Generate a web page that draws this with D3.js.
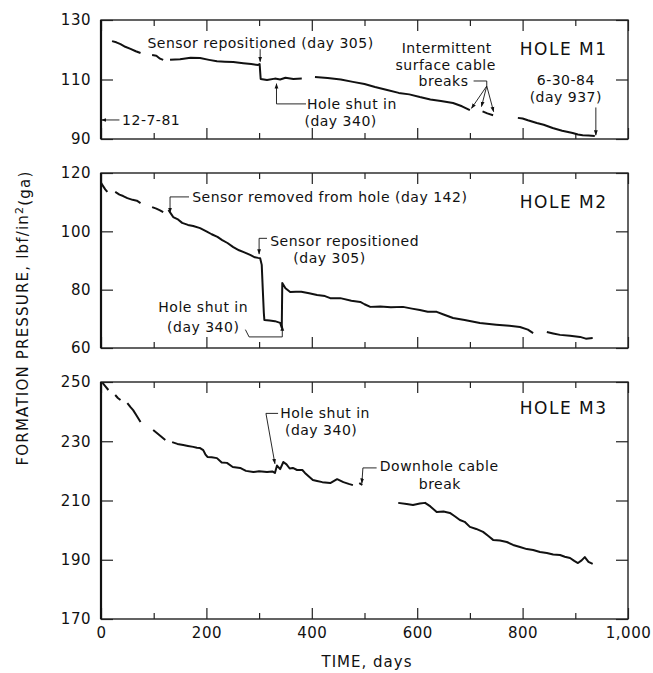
<!DOCTYPE html>
<html lang="en">
<head>
<meta charset="utf-8">
<title>Formation pressure</title>
<script src="https://cdn.jsdelivr.net/npm/d3@7"></script>
<style>
  body { margin: 0; background: #fff; }
  svg text { font-family: "DejaVu Sans", sans-serif; fill: #111; }
</style>
</head>
<body>
<script>

// ---- data (days, lbf/in2), null = gap in the record ----
var m1Days = [21,29,37,46,56,66,75,null, 97,105,112,118,null,
  131,150,170,188,205,220,235,251,270,285,298,301,303,315,330,340,350,365,381,null,
  406,430,455,478,500,520,543,565,585,605,625,645,668,685,700,null,
  724,733,744,null,
  791,800,810,827,840,857,875,895,905,914,925,937];
var m1Vals = [122.9,122.5,121.9,121,120.3,119.5,118.9,null, 118.2,118,117,116.6,null,
  116.6,116.8,117.3,117.2,116.6,116.1,116.0,115.9,115.5,115.2,114.9,115.2,110.2,109.8,110.3,110.0,110.6,110.2,110.3,null,
  110.8,110.5,110.0,109.2,108.5,107.5,106.5,105.5,105.0,104.1,103.3,102.8,102.1,101.0,99.7,null,
  99.3,98.6,98.0,null,
  97.1,96.9,96.3,95.4,94.8,93.7,92.8,92.0,91.5,91.3,91.2,91.0];

var m2Days = [0,4,8,12,null, 27,35,42,50,60,68,75,null, 97,105,112,118,null,
  128,133,137,145,154,165,175,188,200,210,221,230,240,251,262,272,283,292,298,302,305,307,309,310,
  320,330,340,343,344,350,359,370,380,395,410,425,435,454,475,492,500,511,530,550,573,590,605,620,
  637,650,668,690,719,750,775,795,810,820,null,
  846,858,871,890,909,920,933];
var m2Vals = [116.6,115.5,114.4,113.5,null, 113.5,112.6,112.1,111.4,110.8,110.5,109.7,null, 108.3,107.8,107.2,106.6,null,
  107.3,106.0,104.9,104.2,102.9,102.2,101.8,101.1,100.0,99.0,98.1,97.0,96.0,94.6,93.5,92.8,91.9,91.1,90.9,90.8,88.5,80,72,69.6,
  69.4,69.2,68.6,67.0,82.3,80.5,79.2,79.3,79.3,78.8,78.2,77.8,77.1,77.1,76.2,75.8,75.0,74.1,74.2,74.0,74.1,73.5,73.0,72.4,
  72.4,71.5,70.3,69.6,68.6,68.0,67.6,67.2,66.3,65.1,null,
  65.5,65.0,64.5,64.2,63.8,63.2,63.4];

var m3Days = [3,8,14,null, 27,32,37,null, 50,56,61,68,75,null, 99,110,122,null,
  135,145,156,165,175,182,188,194,198,202,210,220,229,239,250,264,275,289,300,315,325,330,334,340,
  346,352,358,364,372,382,387,395,402,410,420,435,448,460,470,478,null,
  490,496,null,
  564,580,592,605,615,625,637,650,662,672,681,690,700,712,725,735,744,757,770,782,795,808,820,833,
  846,858,871,880,890,898,905,912,918,925,933];
var m3Vals = [249.7,248.6,247.3,null, 245.6,244.6,243.9,null, 242.9,241.5,240.5,238.5,236.5,null, 233.8,232.2,230.4,null,
  229.7,229.1,228.7,228.4,228.1,227.8,227.7,227.0,225.6,224.7,224.6,224.3,222.8,222.7,221.3,221.0,220.0,219.6,219.9,219.6,219.8,219.3,221.8,220.6,
  223.0,222.2,220.8,221.0,220.3,220.3,219.3,218.0,216.9,216.6,216.2,215.9,217.2,216.2,215.6,215.2,null,
  215.9,215.3,null,
  209.2,208.8,208.5,209.0,209.2,208.0,206.1,206.3,205.8,204.6,203.4,202.8,201.1,200.4,199.4,198.0,196.7,196.5,196.0,195.0,194.3,193.6,193.3,192.6,
  192.3,191.8,191.6,191.0,190.6,189.6,188.9,189.8,190.9,189.3,188.6];

var xTicksMajor = [0, 200, 400, 600, 800, 1000];
var xTicksMinor = [100, 300, 500, 700, 900];
var m1Ticks = [90, 110, 130];
var m2Ticks = [60, 80, 100, 120];
var m3Ticks = [170, 190, 210, 230, 250];

var width = 653, height = 673;
var left = 101, right = 628;

var svg = d3.select("body").append("svg")
    .attr("width", width)
    .attr("height", height);

var defs = svg.append("defs");
defs.append("marker")
    .attr("id", "arr")
    .attr("viewBox", "0 0 10 10")
    .attr("refX", 9).attr("refY", 5)
    .attr("markerWidth", 6).attr("markerHeight", 6)
    .attr("orient", "auto")
  .append("path")
    .attr("d", "M0,1.5L10,5L0,8.5Z")
    .attr("fill", "#111");

var x = d3.scaleLinear().domain([0, 1000]).range([left, right]);

function zip(days, vals) {
    return days.map(function(d, i) { return d === null ? null : [d, vals[i]]; });
}

function panel(cfg) {
    var y = d3.scaleLinear().domain(cfg.domain).range([cfg.bottom, cfg.top]);
    var g = svg.append("g");

    // inward ticks on all four sides
    g.append("g").attr("transform", "translate(0," + cfg.bottom + ")")
        .call(d3.axisBottom(x).tickValues(xTicksMajor).tickSize(-11).tickSizeOuter(0)
            .tickPadding(8).tickFormat(cfg.labels ? d3.format(",") : ""));
    g.append("g").attr("transform", "translate(0," + cfg.bottom + ")")
        .call(d3.axisBottom(x).tickValues(xTicksMinor).tickSize(-6).tickSizeOuter(0).tickFormat(""));
    g.append("g").attr("transform", "translate(0," + cfg.top + ")")
        .call(d3.axisTop(x).tickValues(xTicksMajor).tickSize(-11).tickSizeOuter(0).tickFormat(""));
    g.append("g").attr("transform", "translate(0," + cfg.top + ")")
        .call(d3.axisTop(x).tickValues(xTicksMinor).tickSize(-6).tickSizeOuter(0).tickFormat(""));
    g.append("g").attr("transform", "translate(" + left + ",0)")
        .call(d3.axisLeft(y).tickValues(cfg.ticks).tickSize(-12).tickSizeOuter(0).tickPadding(10));
    g.append("g").attr("transform", "translate(" + right + ",0)")
        .call(d3.axisRight(y).tickValues(cfg.ticks).tickSize(-12).tickSizeOuter(0).tickFormat(""));

    g.selectAll(".domain").remove();
    g.selectAll(".tick line").attr("stroke", "#222").attr("stroke-width", 1.2);
    g.selectAll(".tick text").style("font-size", "15px").style("letter-spacing", "0.5px").attr("fill", "#111");

    g.append("rect")
        .attr("x", left).attr("y", cfg.top)
        .attr("width", right - left).attr("height", cfg.bottom - cfg.top)
        .attr("fill", "none").attr("stroke", "#222").attr("stroke-width", 1.4);
    g.append("line")
        .attr("x1", left).attr("x2", left)
        .attr("y1", cfg.top).attr("y2", cfg.bottom)
        .attr("stroke", "#111").attr("stroke-width", 2.2);

    var line = d3.line()
        .defined(function(d) { return d !== null; })
        .x(function(d) { return x(d[0]); })
        .y(function(d) { return y(d[1]); });

    g.append("path")
        .datum(zip(cfg.days, cfg.vals))
        .attr("d", line)
        .attr("fill", "none")
        .attr("stroke", "#111")
        .attr("stroke-width", 2)
        .attr("stroke-linejoin", "round");

    g.append("text")
        .attr("x", x(878)).attr("y", y(cfg.holeAt))
        .attr("dy", "0.35em")
        .attr("text-anchor", "middle")
        .style("font-size", "17px")
        .style("letter-spacing", "1.5px")
        .text(cfg.name);

    return { g: g, y: y };
}

function label(g, px, py, txt, anchor) {
    g.append("text")
        .attr("x", px).attr("y", py).attr("dy", "0.35em")
        .attr("text-anchor", anchor || "start")
        .style("font-size", "14px")
        .style("letter-spacing", "0.5px")
        .text(txt);
}

function leader(g, pts, arrow) {
    g.append("path")
        .attr("d", d3.line()(pts))
        .attr("fill", "none")
        .attr("stroke", "#111")
        .attr("stroke-width", 0.9)
        .attr("marker-end", arrow === false ? null : "url(#arr)");
}

// ---- HOLE M1 ----
var p1 = panel({ top: 20, bottom: 139, domain: [90, 130], ticks: m1Ticks,
    days: m1Days, vals: m1Vals, name: "HOLE M1", holeAt: 120.3 });
var y1 = p1.y;
label(p1.g, x(88), y1(122.3), "Sensor repositioned (day 305)");
leader(p1.g, [[x(302), y1(120.2)], [x(302), y1(116)]]);
label(p1.g, x(391), y1(101.8), "Hole shut in");
label(p1.g, x(386), y1(96.0), "(day 340)");
leader(p1.g, [[x(389), y1(101.8)], [x(333), y1(101.8)], [x(333), y1(108.6)]]);
label(p1.g, x(40), y1(96.4), "12-7-81");
leader(p1.g, [[x(35), y1(96.4)], [x(1), y1(96.4)]]);
label(p1.g, x(882), y1(109.8), "6-30-84", "middle");
label(p1.g, x(882), y1(104.0), "(day 937)", "middle");
leader(p1.g, [[x(939), y1(100.6)], [x(939), y1(91.3)]]);
label(p1.g, x(656), y1(120.6), "Intermittent", "middle");
label(p1.g, x(654), y1(115.0), "surface cable", "middle");
label(p1.g, x(650), y1(109.5), "breaks", "middle");
leader(p1.g, [[x(707), y1(109.5)], [x(732), y1(109.5)], [x(732), y1(107.8)]], false);
leader(p1.g, [[x(732), y1(107.8)], [x(703), y1(100.3)]]);
leader(p1.g, [[x(732), y1(107.8)], [x(722), y1(100.9)]]);
leader(p1.g, [[x(732), y1(107.8)], [x(745), y1(99.2)]]);

// ---- HOLE M2 ----
var p2 = panel({ top: 173, bottom: 348, domain: [60, 120], ticks: m2Ticks,
    days: m2Days, vals: m2Vals, name: "HOLE M2", holeAt: 110.1 });
var y2 = p2.y;
label(p2.g, x(173), y2(111.8), "Sensor removed from hole (day 142)");
leader(p2.g, [[x(167), y2(111.8)], [x(131), y2(111.8)], [x(131), y2(106.4)]]);
label(p2.g, x(321), y2(96.5), "Sensor repositioned");
label(p2.g, x(365), y2(90.7), "(day 305)");
leader(p2.g, [[x(315), y2(97.6)], [x(300), y2(97.6)], [x(300), y2(92.2)]]);
label(p2.g, x(194), y2(74.1), "Hole shut in", "middle");
label(p2.g, x(194), y2(67.2), "(day 340)", "middle");
leader(p2.g, [[x(274), y2(66.3)], [x(281), y2(63.8)], [x(344), y2(63.8)], [x(344), y2(67.6)]]);

// ---- HOLE M3 ----
var p3 = panel({ top: 382, bottom: 619, domain: [170, 250], ticks: m3Ticks,
    days: m3Days, vals: m3Vals, name: "HOLE M3", holeAt: 241.2, labels: true });
var y3 = p3.y;
label(p3.g, x(340), y3(239.4), "Hole shut in");
label(p3.g, x(349), y3(233.6), "(day 340)");
leader(p3.g, [[x(336), y3(239.4)], [x(313), y3(239.4)], [x(330), y3(222.4)]]);
label(p3.g, x(529), y3(221.6), "Downhole cable");
label(p3.g, x(643), y3(215.6), "break", "middle");
leader(p3.g, [[x(523), y3(221)], [x(497), y3(221)], [x(495), y3(215.8)]]);

// ---- axis titles ----
svg.append("text")
    .attr("x", 367).attr("y", 662)
    .attr("dy", "0.35em")
    .attr("text-anchor", "middle")
    .style("font-size", "15px")
    .style("letter-spacing", "1px")
    .text("TIME, days");

var yt = svg.append("text")
    .attr("transform", "translate(23,318) rotate(-90)")
    .attr("text-anchor", "middle")
    .attr("dy", "0.35em")
    .style("font-size", "15px")
    .style("letter-spacing", "1.2px");
yt.append("tspan").text("FORMATION PRESSURE, lbf/in");
yt.append("tspan").attr("dy", "-0.45em").style("font-size", "11px").text("2");
yt.append("tspan").attr("dy", "0.45em").text("(ga)");

</script>
</body>
</html>
